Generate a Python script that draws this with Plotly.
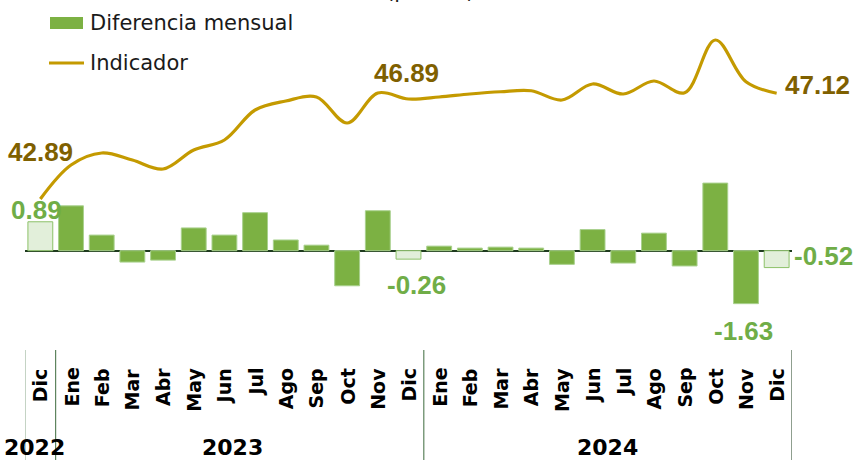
import plotly.graph_objects as go

# ---------------- data ----------------
months = ["Dic", "Ene", "Feb", "Mar", "Abr", "May", "Jun", "Jul", "Ago", "Sep", "Oct", "Nov", "Dic",
          "Ene", "Feb", "Mar", "Abr", "May", "Jun", "Jul", "Ago", "Sep", "Oct", "Nov", "Dic"]
years = ["2022", "2023", "2024"]
diferencia = [0.89, 1.38, 0.48, -0.35, -0.29, 0.70, 0.48, 1.17, 0.33, 0.17, -1.08, 1.23, -0.26,
              0.14, 0.08, 0.11, 0.08, -0.42, 0.65, -0.38, 0.54, -0.47, 2.08, -1.63, -0.52]
indicador = [42.89, 44.25, 44.73, 44.45, 44.09, 44.85, 45.25, 46.45, 46.81, 46.97, 45.93, 47.13, 46.89,
             46.97, 47.09, 47.18, 47.22, 46.85, 47.49, 47.09, 47.61, 47.14, 49.25, 47.58, 47.12]
highlight = [0, 12, 24]          # Dic months shown with light fill
bar_labels = [0, 12, 23, 24]     # bars with value labels
line_labels = [0, 12, 24]        # line points with value labels

# ---------------- geometry helpers (pixels -> paper) ----------------
W, H = 856, 460
ML, MR, MT, MB = 25, 64, 0, 115
PW, PH = W - ML - MR, H - MT - MB


def px(x):
    return (x - ML) / PW


def py(y):
    return (PH + MT - y) / PH


x_idx = list(range(len(months)))
GREEN = "#7cb143"
GREEN_LIGHT = "#e2efda"
GREEN_TXT = "#70ad47"
GOLD = "#c49a00"
GOLD_TXT = "#7f6000"

fill = [GREEN_LIGHT if i in highlight else GREEN for i in x_idx]
edge = ["#8cc168" if i in highlight else "#a9d18e" for i in x_idx]

fig = go.Figure()
fig.add_trace(go.Bar(
    x=x_idx, y=diferencia, name="Diferencia mensual", width=0.81,
    marker=dict(color=fill, line=dict(color=edge, width=1)),
    yaxis="y", showlegend=False, hoverinfo="y",
))
fig.add_trace(go.Scatter(
    x=x_idx, y=indicador, name="Indicador", mode="lines",
    line=dict(color=GOLD, width=3.2, shape="spline", smoothing=1.0),
    yaxis="y2", showlegend=False, hoverinfo="y",
))

ann = []
lab_font = dict(family="Liberation Sans, Arial, sans-serif", size=26, color=GREEN_TXT)
bar_off = {0: (-4, 12, "center"), 12: (8, -26, "center"), 23: (-2, -27, "center"), 24: (15, 12, "left")}
for i in bar_labels:
    dx, dy, xa = bar_off[i]
    ann.append(dict(x=i, y=diferencia[i], xref="x", yref="y", text=f"<b>{diferencia[i]:.2f}</b>",
                    showarrow=False, xanchor=xa, yanchor="middle", xshift=dx, yshift=dy, font=lab_font))
line_font = dict(family="Liberation Sans, Arial, sans-serif", size=26, color=GOLD_TXT)
line_off = {0: (0, 47, "center"), 12: (-2, 26, "center"), 24: (6, 8, "left")}
for i in line_labels:
    dx, dy, xa = line_off[i]
    ann.append(dict(x=i, y=indicador[i], xref="x", yref="y2", text=f"<b>{indicador[i]:.2f}</b>",
                    showarrow=False, xanchor=xa, yanchor="middle", xshift=dx, yshift=dy, font=line_font))

# month category labels (rotated)
for i, m in enumerate(months):
    ann.append(dict(x=i, y=py(366), xref="x", yref="paper", text=f"<b>{m}</b>", textangle=-90,
                    showarrow=False, xanchor="center", yanchor="top",
                    font=dict(family="DejaVu Sans, sans-serif", size=19, color="#000000")))
year_pos = [-0.18, 6.25, 18.5]
for yx, yr in zip(year_pos, years):
    ann.append(dict(x=yx, y=py(447), xref="x", yref="paper", text=f"<b>{yr}</b>", showarrow=False,
                    xanchor="center", yanchor="middle",
                    font=dict(family="DejaVu Sans, sans-serif", size=22, color="#000000")))

# manual legend
leg_font = dict(family="DejaVu Sans, sans-serif", size=21, color="#1a1a1a")
ann.append(dict(x=px(88), y=py(23), xref="paper", yref="paper", text="Diferencia mensual",
                showarrow=False, xanchor="left", yanchor="middle", font=leg_font))
ann.append(dict(x=px(88), y=py(63), xref="paper", yref="paper", text="Indicador",
                showarrow=False, xanchor="left", yanchor="middle", font=leg_font))
# partially visible title at very top (cut off in the reference too)
ann.append(dict(x=px(430), y=py(5), xref="paper", yref="paper", text="(puntos)",
                showarrow=False, xanchor="center", yanchor="bottom", font=leg_font))

shapes = [
    dict(type="rect", xref="paper", yref="paper", x0=px(50), x1=px(83), y0=py(29), y1=py(17),
         fillcolor=GREEN, line=dict(width=0)),
    dict(type="line", xref="paper", yref="paper", x0=px(49), x1=px(84), y0=py(63), y1=py(63),
         line=dict(color=GOLD, width=3.2)),
]
for xb, col in zip([-0.5, 0.5, 12.5, 24.5], ["#8aa88a", "#3d6b3d", "#3d6b3d", "#1f3f1f"]):
    shapes.append(dict(type="line", xref="x", yref="paper", x0=xb, x1=xb, y0=py(350), y1=py(462),
                       line=dict(color=col, width=1)))

fig.update_layout(
    width=W, height=H, autosize=False,
    margin=dict(l=ML, r=MR, t=MT, b=MB, pad=0),
    paper_bgcolor="white", plot_bgcolor="white",
    showlegend=False,
    xaxis=dict(range=[-0.5, 24.5], showticklabels=False, showgrid=False, zeroline=False,
               ticks="", fixedrange=True),
    yaxis=dict(range=[-2.902, 7.714], showticklabels=False, showgrid=False, zeroline=True,
               zerolinecolor="#1f3b1f", zerolinewidth=1.5),
    yaxis2=dict(range=[37.05, 50.85], overlaying="y", showticklabels=False, showgrid=False,
                zeroline=False),
    annotations=ann, shapes=shapes,
)

fig.write_html(
    "out.html",
    config={"displayModeBar": False},
    post_script="document.body.style.margin='0px';document.body.style.overflow='hidden';",
)
